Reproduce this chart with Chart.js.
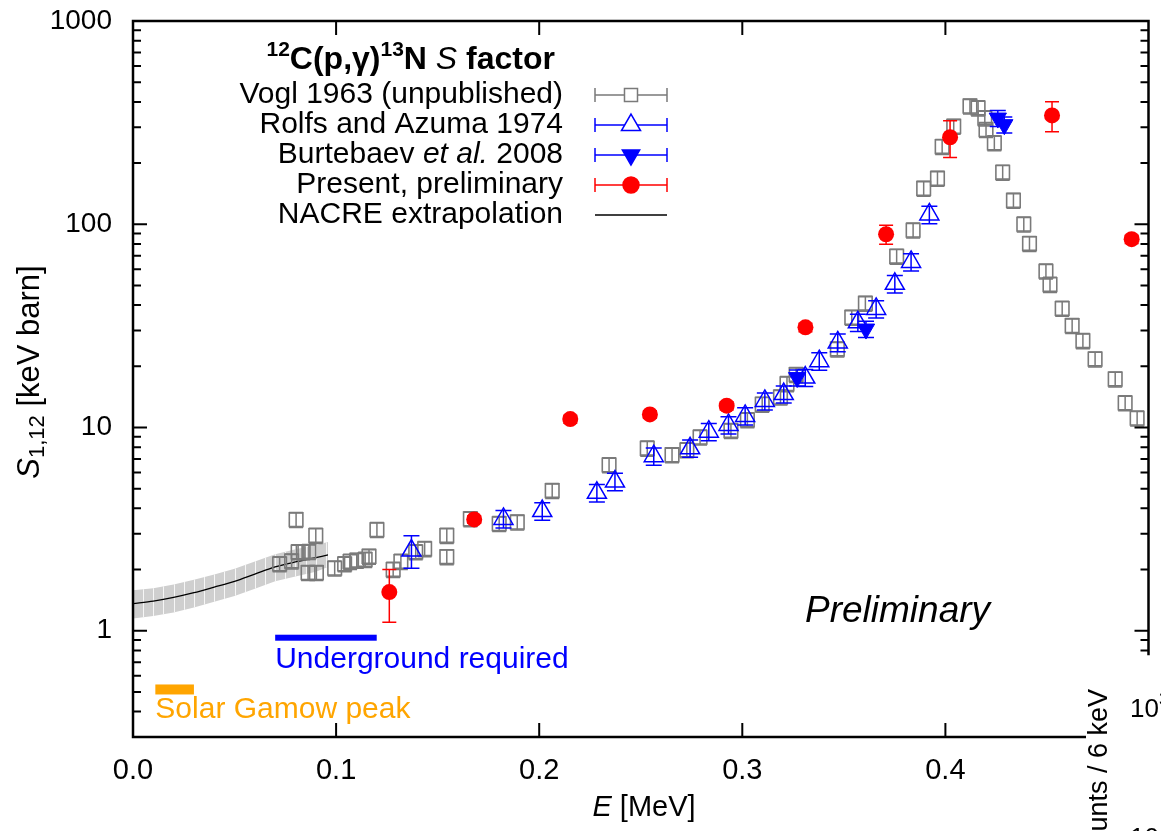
<!DOCTYPE html>
<html>
<head>
<meta charset="utf-8">
<script src="https://cdn.jsdelivr.net/npm/chart.js@4.4.1/dist/chart.umd.min.js"></script>
<style>
  html, body { margin: 0; padding: 0; background: #fff; overflow: hidden; }
  canvas { display: block; }
</style>
</head>
<body>
<canvas id="c" width="1161" height="831"></canvas>
<script>
// ---- 12C(p,gamma)13N astrophysical S factor, E in MeV, S in keV barn ----

// Vogl 1963 (unpublished)
const voglE = [0.0722, 0.0781, 0.0803, 0.0813, 0.0838, 0.0866, 0.0900, 0.0862, 0.0903, 0.0993,
               0.1042, 0.1069, 0.1102, 0.1143, 0.1162, 0.1201, 0.1281, 0.1319, 0.1392, 0.1436,
               0.1545, 0.1545, 0.1661, 0.1803, 0.1892, 0.2064, 0.2344, 0.2532, 0.2654, 0.2727,
               0.2792, 0.2944, 0.3025, 0.3098, 0.3188, 0.3220, 0.3265, 0.3468, 0.3539, 0.3606,
               0.3760, 0.3841, 0.3893, 0.3961, 0.3984, 0.4041, 0.4121, 0.4161, 0.4194, 0.4200,
               0.4241, 0.4282, 0.4335, 0.4386, 0.4414, 0.4495, 0.4515, 0.4575, 0.4624, 0.4677,
               0.4737, 0.4836, 0.4885, 0.4944];
const voglS = [2.13, 2.20, 3.52, 2.44, 2.44, 2.45, 2.94, 1.93, 1.93, 2.03,
               2.13, 2.19, 2.22, 2.24, 2.32, 3.14, 2.00, 2.19, 2.44, 2.53,
               2.31, 2.94, 3.55, 3.36, 3.42, 4.89, 6.54, 7.90, 7.33, 7.75,
               8.95, 9.65, 10.9, 13.0, 14.1, 16.4, 18.2, 24.3, 34.8, 40.8,
               69.5, 93.4, 150, 168, 241, 303, 381, 373, 333, 292,
               251, 180, 131, 100, 80.3, 58.7, 50.5, 38.5, 31.7, 26.7,
               21.7, 17.3, 13.2, 11.1];
const voglRelErr = 0.085;   // quoted fractional uncertainty of the Vogl points

// Rolfs and Azuma 1974
const rolfsE = [0.1371, 0.1824, 0.2015, 0.2284, 0.2373, 0.2564, 0.2743, 0.2835, 0.2932, 0.3014,
                0.3111, 0.3204, 0.3310, 0.3379, 0.3470, 0.3569, 0.3659, 0.3751, 0.3831, 0.3921];
const rolfsS = [2.48, 3.55, 3.88, 4.77, 5.42, 7.22, 7.90, 9.53, 10.3, 11.4,
                13.5, 14.6, 17.6, 21.2, 26.2, 32.9, 38.3, 50.9, 65.2, 111.7];
const rolfsErr = [0.45, 0.35, 0.38, 0.47, 0.53, 0.70, 0.77, 0.93, 1.0, 1.1,
                  1.3, 1.4, 1.7, 2.1, 2.6, 3.2, 3.7, 5.0, 6.4, 11];

// Burtebaev et al. 2008
const burtE = [0.3270, 0.3609, 0.4258, 0.4290];
const burtS = [17.6, 30.5, 333, 309];
const burtErr = [1.6, 2.8, 30, 28];

// Present, preliminary
const presE = [0.1262, 0.1680, 0.2153, 0.2545, 0.2923, 0.3311, 0.3708, 0.4023, 0.4525, 0.4917];
const presS = [1.55, 3.53, 11.0, 11.6, 12.8, 31.1, 89.3, 268, 343, 84.4];
const presErr = [0.45, 0.15, 0.5, 0.5, 0.6, 1.5, 9.5, 55, 58, 4];

// NACRE extrapolation and its uncertainty band
const nacreE  = [0, 0.01, 0.02, 0.03, 0.04, 0.05, 0.06, 0.07, 0.08, 0.09, 0.096];
const nacreS  = [1.36, 1.40, 1.46, 1.54, 1.64, 1.75, 1.90, 2.06, 2.18, 2.29, 2.36];
const nacreHi = [1.58, 1.62, 1.69, 1.78, 1.89, 2.02, 2.19, 2.38, 2.52, 2.64, 2.73];
const nacreLo = [1.15, 1.18, 1.23, 1.30, 1.39, 1.48, 1.61, 1.75, 1.85, 1.95, 2.06];
const bandStep = 0.005;     // the band is filled in 5 keV slices

// Energy windows marked on the plot
const gamowRange = [0.011, 0.030];
const undergroundRange = [0.070, 0.120];

// Axis ticks
const xTicks = [0, 0.1, 0.2, 0.3, 0.4];
const xTickLabels = ['0.0', '0.1', '0.2', '0.3', '0.4'];
const yTicks = [1, 10, 100, 1000];
const yTickLabels = ['1', '10', '100', '1000'];

const FONT = '"Liberation Sans", Arial, Helvetica, sans-serif';
const GREY = '#7a7a7a', BLUE = '#0000ff', RED = '#ff0000', ORANGE = '#ffa500';

const pts = (xs, ys) => xs.map((x, i) => ({ x, y: ys[i] }));

// error bars drawn under each dataset's markers
const errorBars = {
  id: 'errorBars',
  beforeDatasetDraw(chart, args) {
    const ds = chart.data.datasets[args.index];
    if (!ds.errLo) return;
    const ctx = chart.ctx, xs = chart.scales.x, ys = chart.scales.y, a = chart.chartArea;
    ctx.save();
    ctx.beginPath(); ctx.rect(a.left, a.top, a.right - a.left, a.bottom - a.top); ctx.clip();
    ctx.strokeStyle = ds.errColor; ctx.lineWidth = ds.errWidth;
    ds.data.forEach((p, i) => {
      const px = xs.getPixelForValue(p.x);
      const y1 = ys.getPixelForValue(ds.errLo[i]);
      const y2 = ys.getPixelForValue(ds.errHi[i]);
      const h = ds.capHalf;
      ctx.beginPath();
      ctx.moveTo(px, y1); ctx.lineTo(px, y2);
      ctx.moveTo(px - h, y1); ctx.lineTo(px + h, y1);
      ctx.moveTo(px - h, y2); ctx.lineTo(px + h, y2);
      ctx.stroke();
    });
    ctx.restore();
  }
};

// draw a run of differently styled text pieces
function runsWidth(ctx, runs) {
  let w = 0;
  runs.forEach(r => { ctx.font = r.font; w += ctx.measureText(r.t).width; });
  return w;
}
function drawRuns(ctx, runs, x, y, align) {
  const w = runsWidth(ctx, runs);
  let cx = align === 'right' ? x - w : align === 'center' ? x - w / 2 : x;
  ctx.textAlign = 'left';
  runs.forEach(r => {
    ctx.font = r.font;
    ctx.fillText(r.t, cx, y + (r.dy || 0));
    cx += ctx.measureText(r.t).width;
  });
}

// white slice lines clipped to the band outline
const bandSlices = {
  id: 'bandSlices',
  afterDatasetDraw(chart, args) {
    const ds = chart.data.datasets[args.index];
    if (!ds.sliced) return;
    const ctx = chart.ctx, xs = chart.scales.x, ys = chart.scales.y;
    ctx.save();
    ctx.beginPath();
    nacreE.forEach((e, i) => {
      const px = xs.getPixelForValue(e), py = ys.getPixelForValue(nacreHi[i]);
      i ? ctx.lineTo(px, py) : ctx.moveTo(px, py);
    });
    for (let i = nacreE.length - 1; i >= 0; i--) {
      ctx.lineTo(xs.getPixelForValue(nacreE[i]), ys.getPixelForValue(nacreLo[i]));
    }
    ctx.closePath();
    ctx.clip();
    ctx.strokeStyle = 'rgba(255,255,255,0.8)';
    ctx.lineWidth = 1;
    ctx.beginPath();
    for (let e = bandStep; e < nacreE[nacreE.length - 1] - 1e-6; e += bandStep) {
      const px = Math.round(xs.getPixelForValue(e)) + 0.5;
      ctx.moveTo(px, 0);
      ctx.lineTo(px, chart.height);
    }
    ctx.stroke();
    ctx.restore();
  }
};

const frame = {
  id: 'frame',
  afterDraw(chart) {
    const ctx = chart.ctx, xs = chart.scales.x, ys = chart.scales.y, a = chart.chartArea;
    const L = a.left, R = a.right, T = a.top, B = a.bottom;
    const xEnd = 1085, rEnd = 654;      // where the neighbouring panel cuts the frame

    // marked energy windows: Gamow peak and underground region
    ctx.save();
    ctx.fillStyle = ORANGE;
    const gy = ys.getPixelForValue(0.514);
    ctx.fillRect(xs.getPixelForValue(gamowRange[0]), gy - 5, xs.getPixelForValue(gamowRange[1]) - xs.getPixelForValue(gamowRange[0]), 10);
    ctx.fillStyle = BLUE;
    const uy = ys.getPixelForValue(0.924);
    ctx.fillRect(xs.getPixelForValue(undergroundRange[0]), uy - 3, xs.getPixelForValue(undergroundRange[1]) - xs.getPixelForValue(undergroundRange[0]), 6);

    ctx.textBaseline = 'middle';
    ctx.font = '30px ' + FONT;
    ctx.fillStyle = BLUE;
    ctx.textAlign = 'left';
    ctx.fillText('Underground required', xs.getPixelForValue(undergroundRange[0]), uy + 22);
    ctx.fillStyle = ORANGE;
    ctx.fillText('Solar Gamow peak', xs.getPixelForValue(gamowRange[0]), gy + 20);

    ctx.fillStyle = '#000';
    ctx.font = 'italic 37px ' + FONT;
    ctx.fillText('Preliminary', 805, 612);

    // axes frame
    ctx.strokeStyle = '#000';
    ctx.lineWidth = 2.5;
    ctx.lineCap = 'square';
    ctx.beginPath();
    ctx.moveTo(L, B); ctx.lineTo(L, T); ctx.lineTo(R, T); ctx.lineTo(R, rEnd);
    ctx.moveTo(L, B); ctx.lineTo(xEnd, B);
    ctx.stroke();

    // ticks
    ctx.lineWidth = 2;
    ctx.lineCap = 'butt';
    ctx.beginPath();
    xTicks.forEach(v => {
      const px = xs.getPixelForValue(v);
      ctx.moveTo(px, B); ctx.lineTo(px, B - 14);
      ctx.moveTo(px, T); ctx.lineTo(px, T + 14);
    });
    for (let dec = 0.1; dec < 1000; dec *= 10) {
      for (let m = 1; m < 10; m++) {
        const v = dec * m;
        if (v < 0.309 || v > 1000) continue;
        const py = ys.getPixelForValue(v);
        const len = m === 1 ? 14 : 8;
        ctx.moveTo(L, py); ctx.lineTo(L + len, py);
        if (py <= rEnd) { ctx.moveTo(R, py); ctx.lineTo(R - len, py); }
      }
    }
    ctx.moveTo(L, T); ctx.lineTo(L + 14, T);
    ctx.moveTo(R, T); ctx.lineTo(R - 14, T);
    ctx.stroke();

    // tick labels
    ctx.fillStyle = '#000';
    ctx.font = '28px ' + FONT;
    ctx.textAlign = 'right';
    ctx.textBaseline = 'middle';
    yTicks.forEach((v, i) => ctx.fillText(yTickLabels[i], 112, ys.getPixelForValue(v)));
    ctx.font = '29px ' + FONT;
    ctx.textAlign = 'center';
    xTicks.forEach((v, i) => ctx.fillText(xTickLabels[i], xs.getPixelForValue(v), 771));

    // axis titles
    ctx.textBaseline = 'middle';
    drawRuns(ctx, [
      { t: 'E', font: 'italic 29px ' + FONT },
      { t: ' [MeV]', font: '29px ' + FONT }
    ], 644, 808, 'center');

    ctx.save();
    ctx.translate(30, 372);
    ctx.rotate(-Math.PI / 2);
    ctx.textBaseline = 'middle';
    drawRuns(ctx, [
      { t: 'S', font: 'italic 31px ' + FONT },
      { t: '1,12', font: '22px ' + FONT, dy: 8 },
      { t: ' [keV barn]', font: '31px ' + FONT }
    ], 0, 0, 'center');
    ctx.restore();

    // key
    ctx.textBaseline = 'middle';
    drawRuns(ctx, [
      { t: '12', font: 'bold 21px ' + FONT, dy: -10 },
      { t: 'C(p,\u03b3)', font: 'bold 32px ' + FONT },
      { t: '13', font: 'bold 21px ' + FONT, dy: -10 },
      { t: 'N ', font: 'bold 32px ' + FONT },
      { t: 'S', font: 'italic 32px ' + FONT },
      { t: ' factor', font: 'bold 32px ' + FONT }
    ], 555, 60, 'right');

    const keyX = 563, sx0 = 595, sx1 = 667, sxm = 631;
    const rows = [
      { runs: [{ t: 'Vogl 1963 (unpublished)' }], color: GREY, style: 'rect', r: 9.2, fill: false, rot: 0 },
      { runs: [{ t: 'Rolfs and Azuma 1974' }], color: BLUE, style: 'triangle', r: 11, fill: false, rot: 0 },
      { runs: [{ t: 'Burtebaev ' }, { t: 'et al.', it: true }, { t: ' 2008' }], color: BLUE, style: 'triangle', r: 10, fill: true, rot: 180 },
      { runs: [{ t: 'Present, preliminary' }], color: RED, style: 'circle', r: 8, fill: true, rot: 0 },
      { runs: [{ t: 'NACRE extrapolation' }], color: '#000', style: null }
    ];
    rows.forEach((row, k) => {
      const yy = 95 + 30 * k;
      ctx.fillStyle = '#000';
      drawRuns(ctx, row.runs.map(r => ({ t: r.t, font: (r.it ? 'italic ' : '') + '30px ' + FONT })), keyX, yy, 'right');
      ctx.strokeStyle = row.color;
      ctx.lineWidth = 1.5;
      ctx.beginPath();
      ctx.moveTo(sx0, yy); ctx.lineTo(sx1, yy);
      if (row.style) {
        ctx.moveTo(sx0, yy - 7); ctx.lineTo(sx0, yy + 7);
        ctx.moveTo(sx1, yy - 7); ctx.lineTo(sx1, yy + 7);
      }
      ctx.stroke();
      if (row.style) {
        ctx.save();
        ctx.fillStyle = row.fill ? row.color : '#fff';
        ctx.strokeStyle = row.color;
        ctx.lineWidth = 1.5;
        Chart.helpers.drawPoint(ctx, { pointStyle: row.style, radius: row.r, rotation: row.rot, borderWidth: 1.5 }, sxm, yy);
        ctx.restore();
      }
    });

    // neighbouring panel overlapping the lower right corner
    ctx.fillStyle = '#fff';
    ctx.fillRect(xEnd + 1, rEnd + 2, 1161 - xEnd, 831 - rEnd);
    ctx.fillStyle = '#000';
    ctx.textBaseline = 'alphabetic';
    ctx.textAlign = 'left';
    ctx.font = '26px ' + FONT;
    ctx.fillText('10', 1130, 717);
    ctx.font = '18px ' + FONT;
    ctx.fillText('3', 1159, 705);
    ctx.font = '26px ' + FONT;
    ctx.fillText('10', 1130, 846);
    ctx.save();
    ctx.translate(1107, 860);
    ctx.rotate(-Math.PI / 2);
    ctx.font = '27px ' + FONT;
    ctx.fillText('counts / 6 keV', 0, 0);
    ctx.restore();
    ctx.restore();
  }
};

const ds = [
  {
    label: 'Present, preliminary', order: 0,
    data: pts(presE, presS),
    pointStyle: 'circle', pointRadius: 8, pointBorderWidth: 0,
    pointBackgroundColor: RED, pointBorderColor: RED,
    errLo: presS.map((s, i) => s - presErr[i]), errHi: presS.map((s, i) => s + presErr[i]),
    errColor: RED, errWidth: 1.5, capHalf: 7
  },
  {
    label: 'Burtebaev et al. 2008', order: 1,
    data: pts(burtE, burtS),
    pointStyle: 'triangle', pointRotation: 180, pointRadius: 10, pointBorderWidth: 1,
    pointBackgroundColor: BLUE, pointBorderColor: BLUE,
    errLo: burtS.map((s, i) => s - burtErr[i]), errHi: burtS.map((s, i) => s + burtErr[i]),
    errColor: BLUE, errWidth: 1.5, capHalf: 8
  },
  {
    label: 'Rolfs and Azuma 1974', order: 2,
    data: pts(rolfsE, rolfsS),
    pointStyle: 'triangle', pointRadius: 11, pointBorderWidth: 1.5,
    pointBackgroundColor: 'rgba(0,0,0,0)', pointBorderColor: BLUE,
    errLo: rolfsS.map((s, i) => s - rolfsErr[i]), errHi: rolfsS.map((s, i) => s + rolfsErr[i]),
    errColor: BLUE, errWidth: 1.5, capHalf: 8
  },
  {
    label: 'Vogl 1963 (unpublished)', order: 3,
    data: pts(voglE, voglS),
    pointStyle: 'rect', pointRadius: 9.6, pointBorderWidth: 1.6,
    pointBackgroundColor: 'rgba(0,0,0,0)', pointBorderColor: GREY,
    errLo: voglS.map(s => s * (1 - voglRelErr)), errHi: voglS.map(s => s * (1 + voglRelErr)),
    errColor: GREY, errWidth: 1.5, capHalf: 7
  },
  {
    label: 'NACRE extrapolation', order: 4,
    data: pts(nacreE, nacreS), showLine: true,
    borderColor: '#000', borderWidth: 1.3, pointRadius: 0, fill: false, tension: 0.3
  },
  {
    label: 'NACRE upper', order: 5, sliced: true,
    data: pts(nacreE, nacreHi), showLine: true,
    borderWidth: 0, borderColor: 'rgba(0,0,0,0)', pointRadius: 0,
    backgroundColor: '#cfcfcf', fill: '+1'
  },
  {
    label: 'NACRE lower', order: 6,
    data: pts(nacreE, nacreLo), showLine: true,
    borderWidth: 0, borderColor: 'rgba(0,0,0,0)', pointRadius: 0, fill: false
  }
];

new Chart(document.getElementById('c'), {
  type: 'scatter',
  data: { datasets: ds },
  options: {
    responsive: false,
    animation: false,
    events: [],
    layout: { padding: { left: 133, top: 21, right: 5, bottom: 94 } },
    plugins: { legend: { display: false }, tooltip: { enabled: false } },
    scales: {
      x: { type: 'linear', min: 0, max: 0.5, display: false },
      y: { type: 'logarithmic', min: 0.31, max: 1000, display: false }
    }
  },
  plugins: [errorBars, bandSlices, frame]
});
</script>
</body>
</html>
